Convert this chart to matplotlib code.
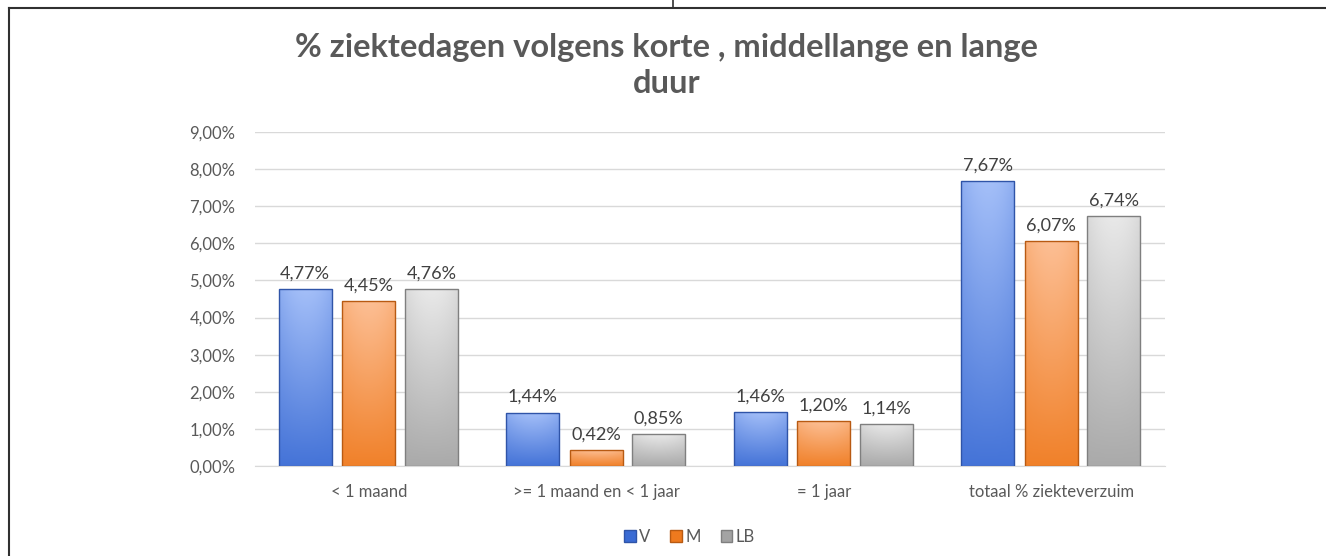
import numpy as np
import matplotlib.pyplot as plt
from matplotlib.lines import Line2D
from matplotlib.patches import Patch
from matplotlib.colors import LinearSegmentedColormap

plt.rcParams['font.family'] = ['Lato', 'DejaVu Sans']

# data
categories = ['< 1 maand', '>= 1 maand en < 1 jaar', '= 1 jaar', 'totaal % ziekteverzuim']
series = ['V', 'M', 'LB']
v_vals = [4.77, 1.44, 1.46, 7.67]
m_vals = [4.45, 0.42, 1.20, 6.07]
lb_vals = [4.76, 0.85, 1.14, 6.74]
yticks = [0, 1, 2, 3, 4, 5, 6, 7, 8, 9]

# light top -> dark bottom, plus edge colour
styles = {
    'V': ('#a9c3fa', '#3a6bd4', '#2f54a8'),
    'M': ('#fdc29a', '#ef7a1e', '#b85a12'),
    'LB': ('#ececec', '#a3a3a3', '#7f7f7f'),
}

fig = plt.figure(figsize=(13.26, 5.56), dpi=100)
ax = fig.add_axes([0.1923, 0.1619, 0.6863, 0.6007])

x = np.arange(len(categories))
offsets = [-0.28, 0.0, 0.275]
width = 0.233

for name, vals, off in zip(series, [v_vals, m_vals, lb_vals], offsets):
    top, bottom, edge = styles[name]
    cmap = LinearSegmentedColormap.from_list(name, [bottom, top])
    bars = ax.bar(x + off, vals, width, color='none', edgecolor=edge, linewidth=1.0, zorder=3)
    for b, v in zip(bars, vals):
        x0, w, h = b.get_x(), b.get_width(), b.get_height()
        vert = np.linspace(0, 1, 100)[:, None]
        horiz = 1 - 0.25 * np.abs(np.linspace(-1, 1, 40))[None, :] ** 2
        grad = vert * 0.85 * horiz + 0.1
        im = ax.imshow(grad, cmap=cmap, vmin=0, vmax=1, origin='lower', aspect='auto',
                       extent=[x0, x0 + w, 0, h], zorder=2, interpolation='bilinear')
        im.set_clip_path(b)
        ax.text(b.get_x() + w / 2, h + 0.2, f'{v:.2f}%'.replace('.', ','),
                ha='center', va='bottom', fontsize=13, color='#404040')

ax.set_xlim(-0.5, 3.5)
ax.set_ylim(0, 9)
ax.set_yticks(yticks)
ax.set_yticklabels([f'{t},00%' for t in yticks], fontsize=12, color='#595959')
ax.set_xticks(x)
ax.set_xticklabels(categories, fontsize=12, color='#595959')
ax.tick_params(axis='y', length=0, pad=14)
ax.tick_params(axis='x', length=0, pad=13)
ax.yaxis.grid(True, color='#d9d9d9', linewidth=1)
ax.set_axisbelow(True)
for s in ['top', 'right', 'left']:
    ax.spines[s].set_visible(False)
ax.spines['bottom'].set_color('#d9d9d9')

fig.text(0.5025, 0.882, '% ziektedagen volgens korte , middellange en lange\nduur',
         ha='center', va='center', fontsize=23.5, fontweight='bold', color='#595959',
         linespacing=1.3)

handles = [Patch(facecolor=styles[s][1], edgecolor=styles[s][2]) for s in series]
fig.legend(handles, series, loc='center', bbox_to_anchor=(0.52, 0.034), ncol=3,
           frameon=False, fontsize=12, handlelength=0.7, handleheight=0.7,
           handletextpad=0.2, columnspacing=1.2, labelcolor='#595959')

# chart frame
fig.add_artist(Line2D([9 / 1326, 1], [1 - 8 / 556, 1 - 8 / 556], color='#303030', lw=1.5))
fig.add_artist(Line2D([9 / 1326, 9 / 1326], [0, 1 - 8 / 556], color='#303030', lw=1.5))
fig.add_artist(Line2D([673 / 1326, 673 / 1326], [1 - 8 / 556, 1], color='#303030', lw=1.2))

fig.savefig('out.png', dpi=100)
